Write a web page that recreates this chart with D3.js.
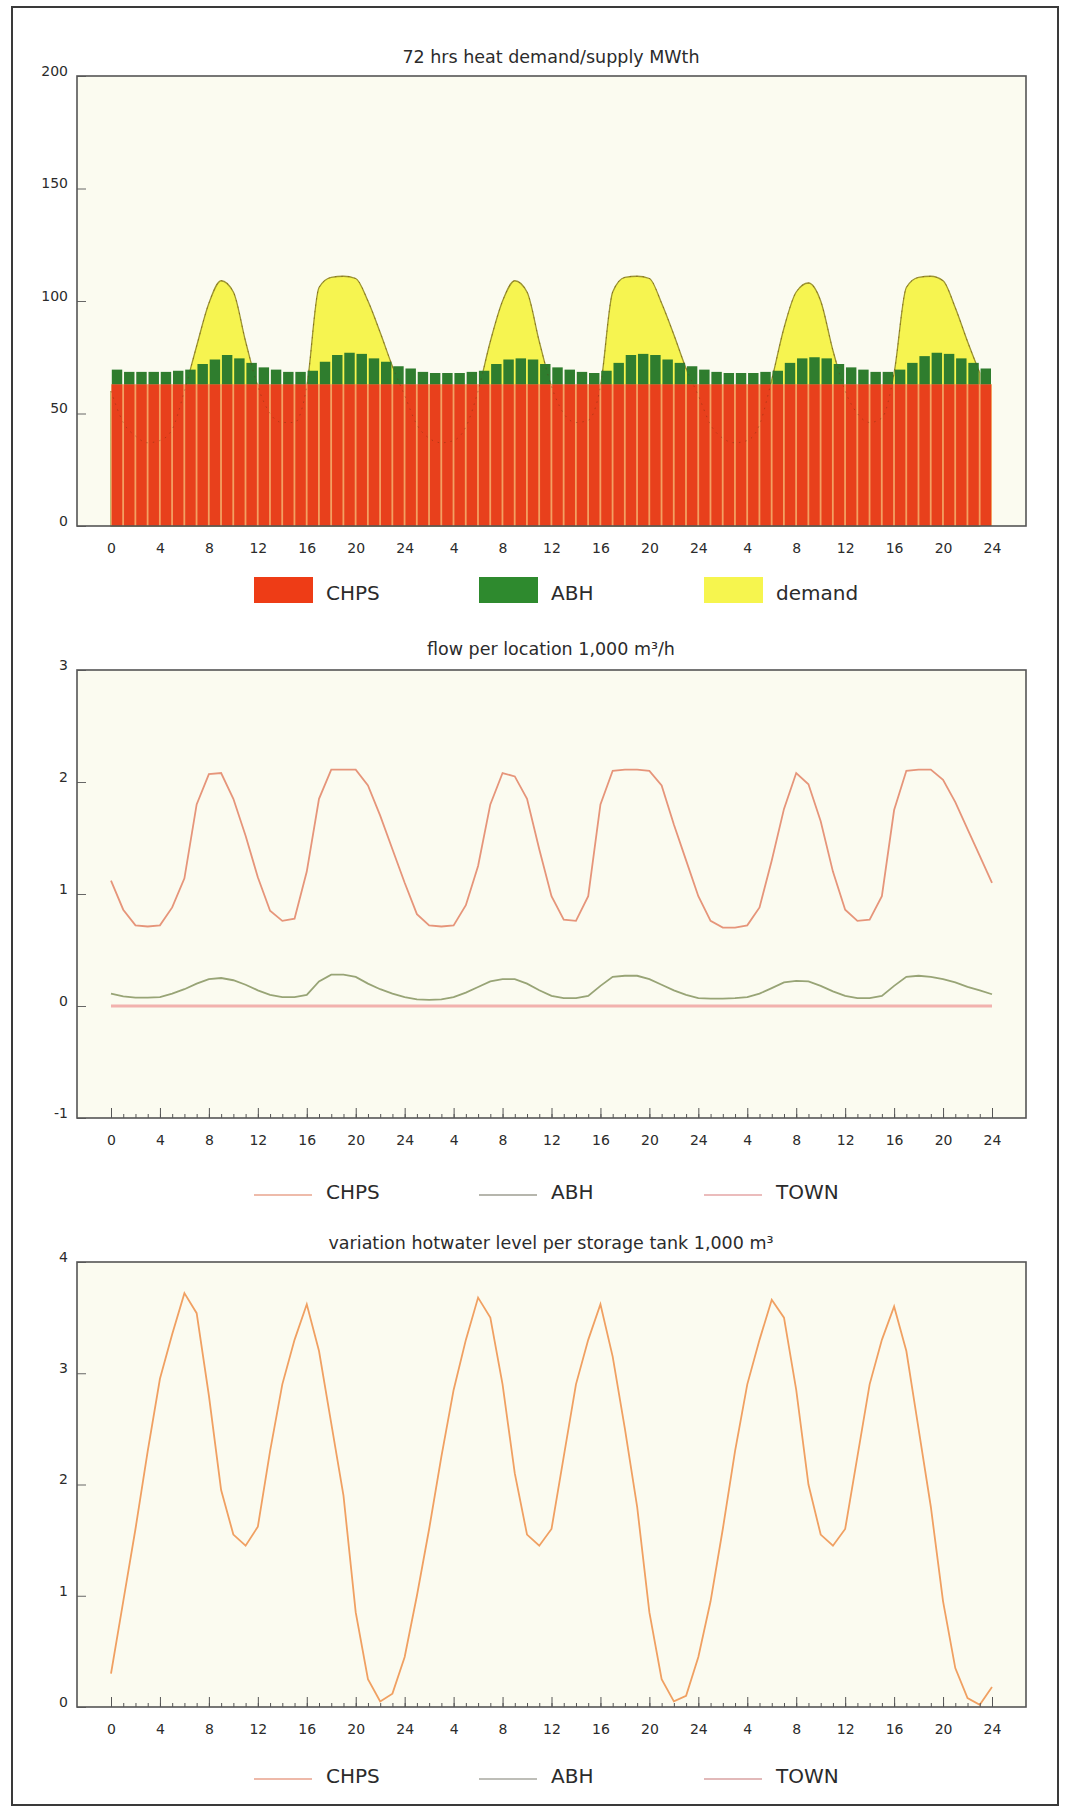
<!DOCTYPE html>
<html>
<head>
<meta charset="utf-8">
<script src="https://cdn.jsdelivr.net/npm/d3@7"></script>
<style>
  body { margin: 0; background: #fff; }
  svg text { font-family: "DejaVu Sans", "Liberation Sans", sans-serif; fill: #2b2b2b; }
</style>
</head>
<body>
<script>
/** page + plot geometry */
const width = 1074;
const height = 1811;
const plotLeft = 77;
const plotRight = 1026;

/** data: 72 hours, three days */
const hourTicks = [0, 4, 8, 12, 16, 20, 24, 28, 32, 36, 40, 44, 48, 52, 56, 60, 64, 68, 72];
const hourTickLabels = ["0", "4", "8", "12", "16", "20", "24", "4", "8", "12", "16", "20", "24", "4", "8", "12", "16", "20", "24"];

// heat supply per hour, MWth (stacked bars)
const heatCHPS = [
  63, 63, 63, 63, 63, 63, 63, 63, 63, 63, 63, 63, 63, 63, 63, 63, 63, 63, 63, 63, 63, 63, 63, 63,
  63, 63, 63, 63, 63, 63, 63, 63, 63, 63, 63, 63, 63, 63, 63, 63, 63, 63, 63, 63, 63, 63, 63, 63,
  63, 63, 63, 63, 63, 63, 63, 63, 63, 63, 63, 63, 63, 63, 63, 63, 63, 63, 63, 63, 63, 63, 63, 63
];
const heatABH = [
  6.5, 5.5, 5.5, 5.5, 5.5, 6, 6.5, 9, 11, 13, 11.5, 9.5, 7.5, 6.5, 5.5, 5.5, 6, 10, 13, 14, 13.5, 11.5, 10, 8,
  7, 5.5, 5, 5, 5, 5.5, 6, 9, 11, 11.5, 11, 9, 7.5, 6.5, 5.5, 5, 6, 9.5, 13, 13.5, 13, 11, 9.5, 8,
  6.5, 5.5, 5, 5, 5, 5.5, 6, 9.5, 11.5, 12, 11.5, 9, 7.5, 6.5, 5.5, 5.5, 6.5, 9.5, 12.5, 14, 13.5, 11.5, 9.5, 7
];
const heatDemand = [
  60, 46, 40, 37, 38, 43, 60, 80, 99, 109, 104, 82, 62, 50, 46, 46, 62, 106, 110.5, 111, 110, 100, 86, 71,
  58, 45, 39, 37, 38, 44, 60, 82, 100, 109, 104, 82, 62, 50, 46, 47, 62, 104, 110.5, 111, 110, 99, 85, 70,
  58, 45, 39, 37, 38, 45, 65, 88, 104, 108, 100, 78, 60, 50, 46, 48, 68, 106, 110.5, 111, 109, 97, 82, 68
];

// flow per location, 1,000 m3/h, hours 0..72
const flowCHPS = [
  1.12, 0.86, 0.72, 0.71, 0.72, 0.88, 1.14, 1.80, 2.07, 2.08, 1.85, 1.52, 1.15, 0.85, 0.76, 0.78, 1.20, 1.85, 2.11, 2.11, 2.11, 1.97, 1.70, 1.40,
  1.10, 0.82, 0.72, 0.71, 0.72, 0.90, 1.25, 1.80, 2.08, 2.05, 1.85, 1.40, 0.98, 0.77, 0.76, 0.98, 1.80, 2.10, 2.11, 2.11, 2.10, 1.97, 1.62, 1.30,
  0.98, 0.76, 0.70, 0.70, 0.72, 0.88, 1.30, 1.76, 2.08, 1.98, 1.65, 1.20, 0.86, 0.76, 0.77, 0.98, 1.75, 2.10, 2.11, 2.11, 2.02, 1.82, 1.58, 1.34,
  1.10
];
const flowABH = [
  0.11, 0.085, 0.075, 0.075, 0.08, 0.11, 0.15, 0.20, 0.24, 0.25, 0.23, 0.19, 0.14, 0.10, 0.08, 0.08, 0.10, 0.22, 0.28, 0.28, 0.26, 0.20, 0.15, 0.11,
  0.08, 0.06, 0.055, 0.06, 0.08, 0.12, 0.17, 0.22, 0.24, 0.24, 0.20, 0.14, 0.09, 0.07, 0.07, 0.09, 0.18, 0.26, 0.27, 0.27, 0.24, 0.19, 0.14, 0.10,
  0.07, 0.065, 0.065, 0.07, 0.08, 0.11, 0.16, 0.21, 0.225, 0.22, 0.18, 0.13, 0.09, 0.07, 0.07, 0.09, 0.18, 0.26, 0.27, 0.26, 0.24, 0.21, 0.17, 0.14,
  0.105
];
const flowTOWN = [
  0, 0, 0, 0, 0, 0, 0, 0, 0, 0, 0, 0, 0, 0, 0, 0, 0, 0, 0, 0, 0, 0, 0, 0,
  0, 0, 0, 0, 0, 0, 0, 0, 0, 0, 0, 0, 0, 0, 0, 0, 0, 0, 0, 0, 0, 0, 0, 0,
  0, 0, 0, 0, 0, 0, 0, 0, 0, 0, 0, 0, 0, 0, 0, 0, 0, 0, 0, 0, 0, 0, 0, 0,
  0
];

// hot water level per storage tank, 1,000 m3, hours 0..72
const levelCHPS = [
  0.30, 0.95, 1.60, 2.30, 2.95, 3.35, 3.72, 3.54, 2.80, 1.95, 1.55, 1.45, 1.62, 2.30, 2.90, 3.30, 3.62, 3.20, 2.55, 1.90, 0.85, 0.25, 0.05, 0.12,
  0.45, 1.00, 1.60, 2.25, 2.85, 3.30, 3.68, 3.50, 2.90, 2.10, 1.55, 1.45, 1.60, 2.25, 2.90, 3.30, 3.62, 3.15, 2.50, 1.80, 0.85, 0.25, 0.05, 0.10,
  0.45, 0.95, 1.60, 2.30, 2.90, 3.30, 3.66, 3.50, 2.85, 2.00, 1.55, 1.45, 1.60, 2.25, 2.90, 3.30, 3.60, 3.20, 2.50, 1.80, 0.95, 0.35, 0.08, 0.02,
  0.18
];

const legendBars = ["CHPS", "ABH", "demand"];
const legendLines = ["CHPS", "ABH", "TOWN"];

/** scales and svg */
const svg = d3.select("body").append("svg")
  .attr("width", width)
  .attr("height", height);

svg.append("rect")
  .attr("x", 12).attr("y", 7)
  .attr("width", 1046).attr("height", 1798)
  .attr("fill", "none")
  .attr("stroke", "#3a3a3a")
  .attr("stroke-width", 2);

const x = d3.scaleLinear().domain([0, 72]).range([111, 992]);
const step = x(1) - x(0);

function panel(top, bottom, yDomain, yTicks, title, titleY) {
  const y = d3.scaleLinear().domain(yDomain).range([bottom, top]);
  svg.append("rect")
    .attr("x", plotLeft).attr("y", top)
    .attr("width", plotRight - plotLeft).attr("height", bottom - top)
    .attr("fill", "#fbfbf0");
  svg.append("text")
    .attr("x", 551).attr("y", titleY)
    .attr("text-anchor", "middle")
    .attr("font-size", 17.5)
    .text(title);
  const ya = svg.append("g")
    .attr("transform", "translate(" + plotLeft + ",0)")
    .call(d3.axisLeft(y).tickValues(yTicks).tickSize(-9).tickPadding(9).tickFormat((d) => String(d)));
  ya.select(".domain").remove();
  ya.selectAll("line").attr("stroke", "#666");
  ya.selectAll("text").attr("font-size", 14).attr("dy", "-0.05em");
  return y;
}

function border(top, bottom) {
  svg.append("rect")
    .attr("x", plotLeft).attr("y", top)
    .attr("width", plotRight - plotLeft).attr("height", bottom - top)
    .attr("fill", "none")
    .attr("stroke", "#555")
    .attr("stroke-width", 1.6);
}

function hourAxis(bottom, withMinor) {
  if (withMinor) {
    const minor = svg.append("g")
      .attr("transform", "translate(0," + bottom + ")")
      .call(d3.axisBottom(x).tickValues(flowTOWN.map((d, i) => i)).tickSize(-4).tickFormat(""));
    minor.select(".domain").remove();
    minor.selectAll("line").attr("stroke", "#555");
  }
  const major = svg.append("g")
    .attr("transform", "translate(0," + bottom + ")")
    .call(d3.axisBottom(x).tickValues(hourTicks)
      .tickSize(withMinor ? -10 : 0).tickPadding(17)
      .tickFormat((d, i) => hourTickLabels[i]));
  major.select(".domain").remove();
  major.selectAll("line").attr("stroke", "#555");
  major.selectAll("text").attr("font-size", 14);
}

/** chart 1: heat demand / supply */
const y1 = panel(76, 526, [0, 200], [0, 50, 100, 150, 200], "72 hrs heat demand/supply MWth", 63);

svg.append("path")
  .datum(heatDemand)
  .attr("fill", "#f6f450")
  .attr("stroke", "#9c9630")
  .attr("stroke-width", 1.3)
  .attr("d", d3.area().curve(d3.curveMonotoneX).x((d, i) => x(i)).y0(y1(0)).y1((d) => y1(d)));

// light underlay gives the thin stripes between the red bars
svg.append("rect")
  .attr("x", x(0)).attr("y", y1(heatCHPS[0]))
  .attr("width", x(72) - x(0)).attr("height", y1(0) - y1(heatCHPS[0]))
  .attr("fill", "#f3a062");

svg.selectAll("rect.chps")
  .data(heatCHPS)
  .enter()
  .append("rect")
  .attr("class", "chps")
  .attr("x", (d, i) => x(i) + 0.8)
  .attr("y", (d) => y1(d))
  .attr("width", step - 1.8)
  .attr("height", (d) => y1(0) - y1(d))
  .attr("fill", "#e8401c");

svg.selectAll("rect.abh")
  .data(heatABH)
  .enter()
  .append("rect")
  .attr("class", "abh")
  .attr("x", (d, i) => x(i) + 0.8)
  .attr("y", (d, i) => y1(heatCHPS[i] + d))
  .attr("width", step - 1.8)
  .attr("height", (d, i) => y1(heatCHPS[i]) - y1(heatCHPS[i] + d))
  .attr("fill", "#2f7d2e");

// demand line shows faintly through the bars
svg.append("path")
  .datum(heatDemand)
  .attr("fill", "none")
  .attr("stroke", "#6a2a10")
  .attr("stroke-opacity", 0.4)
  .attr("stroke-dasharray", "1.5,5")
  .attr("d", d3.line().curve(d3.curveMonotoneX).x((d, i) => x(i)).y((d) => y1(d)));

hourAxis(526, false);
border(76, 526);

const barColors = ["#ee3c16", "#2e8a2e", "#f6f54e"];
const legendX = [254, 479, 704];
legendBars.forEach((name, i) => {
  svg.append("rect")
    .attr("x", legendX[i]).attr("y", 577)
    .attr("width", 59).attr("height", 26)
    .attr("fill", barColors[i]);
  svg.append("text")
    .attr("x", legendX[i] + 72).attr("y", 600)
    .attr("font-size", 20)
    .text(name);
});

/** chart 2: flow per location */
const y2 = panel(670, 1118, [-1, 3], [-1, 0, 1, 2, 3], "flow per location 1,000 m\u00b3/h", 655);
const line2 = d3.line().x((d, i) => x(i)).y((d) => y2(d));

svg.append("path").datum(flowTOWN)
  .attr("fill", "none").attr("stroke", "#f2b2ae").attr("stroke-width", 3)
  .attr("d", line2);
svg.append("path").datum(flowABH)
  .attr("fill", "none").attr("stroke", "#98a476").attr("stroke-width", 1.8)
  .attr("d", line2);
svg.append("path").datum(flowCHPS)
  .attr("fill", "none").attr("stroke", "#e6957a").attr("stroke-width", 1.8)
  .attr("d", line2);

hourAxis(1118, true);
border(670, 1118);

const lineColors2 = ["#e9a58e", "#9e9e92", "#e4a6a6"];
legendLines.forEach((name, i) => {
  svg.append("line")
    .attr("x1", legendX[i]).attr("x2", legendX[i] + 58)
    .attr("y1", 1195).attr("y2", 1195)
    .attr("stroke", lineColors2[i]).attr("stroke-width", 1.6);
  svg.append("text")
    .attr("x", legendX[i] + 72).attr("y", 1199)
    .attr("font-size", 20)
    .text(name);
});

/** chart 3: hot water level */
const y3 = panel(1262, 1707, [0, 4], [0, 1, 2, 3, 4], "variation hotwater level per storage tank 1,000 m\u00b3", 1249);

svg.append("path").datum(levelCHPS)
  .attr("fill", "none").attr("stroke", "#f0a062").attr("stroke-width", 1.8)
  .attr("d", d3.line().x((d, i) => x(i)).y((d) => y3(d)));

hourAxis(1707, true);
border(1262, 1707);

const lineColors3 = ["#e9a28c", "#a8a8a0", "#d8a2a2"];
legendLines.forEach((name, i) => {
  svg.append("line")
    .attr("x1", legendX[i]).attr("x2", legendX[i] + 58)
    .attr("y1", 1779).attr("y2", 1779)
    .attr("stroke", lineColors3[i]).attr("stroke-width", 1.6);
  svg.append("text")
    .attr("x", legendX[i] + 72).attr("y", 1783)
    .attr("font-size", 20)
    .text(name);
});
</script>
</body>
</html>
